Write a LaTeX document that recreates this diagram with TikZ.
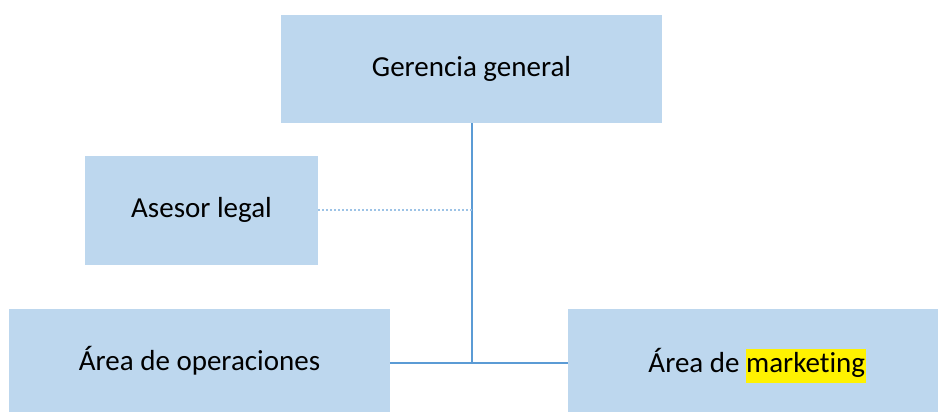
\documentclass[tikz,border=0pt]{standalone}
\usepackage{fontspec}
\setmainfont[Ligatures=NoCommon]{Carlito}
\usepackage{xcolor}
\definecolor{boxfill}{HTML}{BDD7EE}
\definecolor{linkblue}{HTML}{5B9BD5}
\definecolor{dotblue}{HTML}{9DC3E6}
\newcommand{\hilite}[1]{\smash{\setlength{\fboxsep}{0.5pt}\colorbox{yellow}{\strut #1}}}

\begin{document}
\begin{tikzpicture}[x=1pt, y=-1pt,
    unit/.style={fill=boxfill, inner sep=0pt, font=\fontsize{29}{33}\selectfont},
    link/.style={draw=linkblue, line width=2pt},
    advice/.style={draw=dotblue, line width=2pt, dotted}]
    \useasboundingbox (0,0) rectangle (938,412);
    \node[unit, minimum width=381pt, minimum height=108pt] (gerencia) at (471.5, 69) {Gerencia general};
    \node[unit, minimum width=233pt, minimum height=109pt] (asesor) at (201.5, 210) {Asesor legal};
    \node[unit, minimum width=381pt, minimum height=103pt] (operaciones) at (199.5, 360.5) {Área de operaciones};
    \node[unit, minimum width=370pt, minimum height=103pt] (marketing) at (753, 360.5) {\hspace{8pt}Área de\hspace{-0.5pt} \hilite{marketing}};
    \coordinate (jct) at (471.5, 363);
    \draw[link] (gerencia.south) -- (jct);
    \draw[link] (operaciones.east |- jct) -- (marketing.west |- jct);
    \draw[advice] (asesor.east) -- (asesor.east -| jct);
\end{tikzpicture}
\end{document}
